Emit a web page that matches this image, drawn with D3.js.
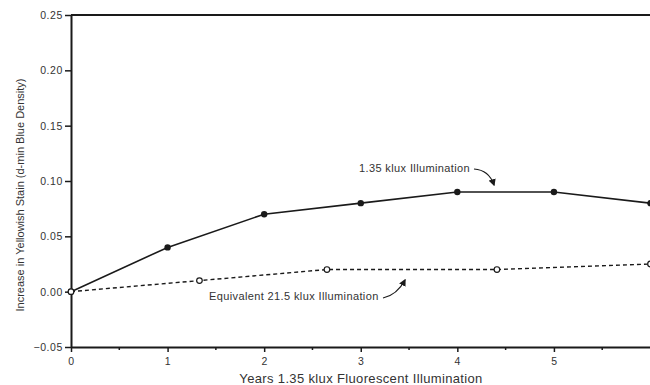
<!DOCTYPE html>
<html>
<head>
<meta charset="utf-8">
<script src="https://cdn.jsdelivr.net/npm/d3@7"></script>
<style>
  html, body { margin: 0; padding: 0; background: #fff; }
  svg { display: block; font-family: "Liberation Sans", Arial, sans-serif; }
</style>
</head>
<body>
<svg id="chart" width="650" height="385"></svg>
<script>
// Years of exposure at 1.35 klux and the measured stain increase
const lowYears = [0, 1, 2, 3, 4, 5, 6];
const lowStain = [0.00, 0.04, 0.07, 0.08, 0.09, 0.09, 0.08];

// Equivalent exposure at 21.5 klux, expressed in 1.35 klux years
const highYears = [0, 1.33, 2.65, 4.41, 6];
const highStain = [0.00, 0.01, 0.02, 0.02, 0.025];

const xTicks = [0, 1, 2, 3, 4, 5];
const xMinorTicks = [0.5, 1.5, 2.5, 3.5, 4.5, 5.5];
const yTicks = [-0.05, 0.00, 0.05, 0.10, 0.15, 0.20, 0.25];

const ink = "#1a1a1a";
const textInk = "#333";
const svg = d3.select("#chart");

const x = d3.scaleLinear().domain([0, 6]).range([71, 650.5]);
const y = d3.scaleLinear().domain([-0.05, 0.25]).range([347, 15]);

// Axes
const xAxis = d3.axisBottom(x).tickValues(xTicks).tickFormat(d3.format("d"))
  .tickSize(5).tickSizeOuter(0).tickPadding(6);
const gx = svg.append("g").attr("transform", `translate(0,${y(-0.05)})`).call(xAxis);
gx.selectAll(".tick line").attr("stroke", ink).attr("stroke-width", 1.5);

gx.selectAll(".minor").data(xMinorTicks).enter().append("line")
  .attr("x1", d => x(d)).attr("x2", d => x(d))
  .attr("y1", 0).attr("y2", 3)
  .attr("stroke", ink).attr("stroke-width", 1.5);

const yAxis = d3.axisLeft(y).tickValues(yTicks).tickFormat(d3.format(".2f"))
  .tickSize(6).tickSizeOuter(0).tickPadding(2);
const gy = svg.append("g").attr("transform", `translate(${x(0)},0)`).call(yAxis);
gy.selectAll(".tick line").attr("stroke", ink).attr("stroke-width", 1.5);

[gx, gy].forEach(g => {
  g.select(".domain").attr("stroke", ink).attr("stroke-width", 2);
  g.selectAll("text").attr("fill", textInk).attr("font-size", 10.5)
    .attr("letter-spacing", 0.6)
    .attr("font-family", "Liberation Sans, Arial, sans-serif");
});

// Top frame line
svg.append("line")
  .attr("x1", x(0)).attr("x2", x(6) + 1)
  .attr("y1", y(0.25)).attr("y2", y(0.25))
  .attr("stroke", ink).attr("stroke-width", 2);

// Axis titles
svg.append("text")
  .attr("x", 361).attr("y", 383)
  .attr("text-anchor", "middle").attr("font-size", 13).attr("fill", textInk)
  .attr("letter-spacing", 0.35)
  .text("Years 1.35 klux Fluorescent Illumination");

svg.append("text")
  .attr("transform", "translate(24,195) rotate(-90)")
  .attr("text-anchor", "middle").attr("font-size", 11).attr("fill", textInk)
  .text("Increase in Yellowish Stain (d-min Blue Density)");

// Series lines
const lowData = lowYears.map((d, i) => [d, lowStain[i]]);
const highData = highYears.map((d, i) => [d, highStain[i]]);
const line = d3.line().x(d => x(d[0])).y(d => y(d[1]));

svg.append("path").datum(highData).attr("d", line)
  .attr("fill", "none").attr("stroke", ink).attr("stroke-width", 1.4)
  .attr("stroke-dasharray", "4,3");

svg.append("path").datum(lowData).attr("d", line)
  .attr("fill", "none").attr("stroke", ink).attr("stroke-width", 1.6);

// Markers
svg.selectAll(".low").data(lowData).enter().append("circle")
  .attr("cx", d => x(d[0])).attr("cy", d => y(d[1])).attr("r", 3.2)
  .attr("fill", ink);

svg.selectAll(".high").data(highData).enter().append("circle")
  .attr("cx", d => x(d[0])).attr("cy", d => y(d[1])).attr("r", 2.8)
  .attr("fill", "#fff").attr("stroke", ink).attr("stroke-width", 1.2);

// Annotations with curved arrows
svg.append("defs").append("marker")
  .attr("id", "head").attr("viewBox", "0 0 10 10")
  .attr("refX", 8).attr("refY", 5)
  .attr("markerWidth", 6).attr("markerHeight", 6)
  .attr("orient", "auto")
  .append("path").attr("d", "M0,0 L10,5 L0,10 Z").attr("fill", ink);

svg.append("text")
  .attr("x", 359).attr("y", 172).attr("font-size", 11).attr("fill", textInk)
  .attr("letter-spacing", 0.38)
  .text("1.35 klux Illumination");
svg.append("path")
  .attr("d", "M474,169 Q489,170 494,185")
  .attr("fill", "none").attr("stroke", ink).attr("stroke-width", 1.2)
  .attr("marker-end", "url(#head)");

svg.append("text")
  .attr("x", 209).attr("y", 300).attr("font-size", 11).attr("fill", textInk)
  .attr("letter-spacing", 0.38)
  .text("Equivalent 21.5 klux Illumination");
svg.append("path")
  .attr("d", "M383,298 Q397,295 405,280")
  .attr("fill", "none").attr("stroke", ink).attr("stroke-width", 1.2)
  .attr("marker-end", "url(#head)");
</script>
</body>
</html>
